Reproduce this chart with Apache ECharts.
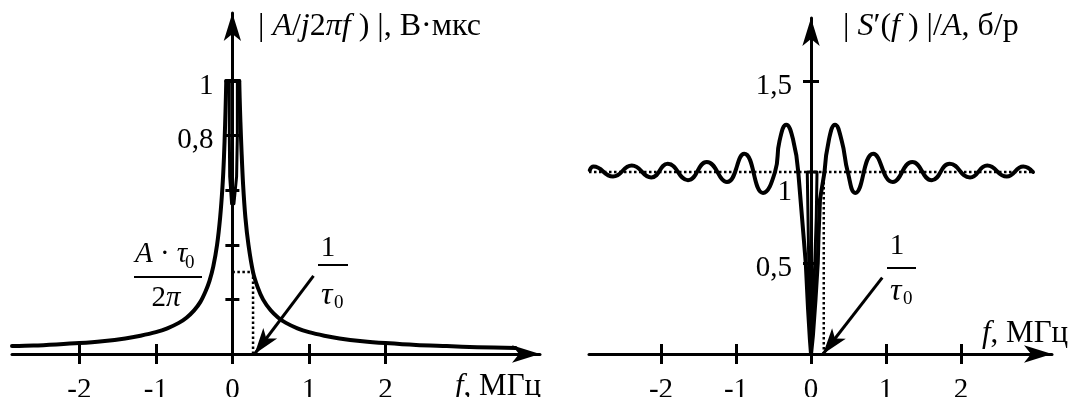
<!DOCTYPE html>
<html>
<head>
<meta charset="utf-8">
<script src="https://cdn.jsdelivr.net/npm/echarts@6/dist/echarts.min.js"></script>
<style>
  html, body { margin: 0; background: #fff; }
  #chart { width: 1087px; height: 397px; }
</style>
</head>
<body>
<div id="chart"></div>
<script>
// tick values
const fTicks = [-2, -1, 0, 1, 2];
const leftYTicks = [0.2, 0.4, 0.6, 0.8, 1];
const leftYLabels = [0.8, 1];
const rightYTicks = [0.5, 1.5];
const rightYLabels = [0.5, 1, 1.5];

// axis ranges
const leftXRange = [-2.88, 4.02];
const leftYMax = 1.249;
const rightXRange = [-2.96, 3.213];
const rightYMax = 1.846;

// left panel |A/j2πf)|
const leftNegF = [-2.88, -2.6, -2.3, -2.0, -1.7, -1.4, -1.2, -1.0, -0.85, -0.7, -0.6, -0.5, -0.42, -0.35, -0.3, -0.25, -0.2, -0.16, -0.13, -0.11, -0.095, -0.085, -0.08];
const leftNegV = [0.029, 0.031, 0.035, 0.04, 0.047, 0.057, 0.067, 0.08, 0.094, 0.114, 0.133, 0.16, 0.19, 0.23, 0.267, 0.32, 0.40, 0.50, 0.61, 0.72, 0.84, 0.94, 1.0];
const leftPosF = [0.09, 0.095, 0.105, 0.12, 0.14, 0.17, 0.21, 0.27, 0.33, 0.4, 0.5, 0.6, 0.7, 0.85, 1.0, 1.2, 1.4, 1.7, 2.0, 2.4, 2.8, 3.2, 3.7];
const leftPosV = [1.0, 0.94, 0.85, 0.74, 0.62, 0.5, 0.40, 0.30, 0.245, 0.20, 0.16, 0.133, 0.114, 0.094, 0.08, 0.067, 0.057, 0.047, 0.04, 0.033, 0.029, 0.025, 0.022];
const leftCapF = [-0.08, 0.09];
const leftCapV = [1.0, 1.0];
const leftInnerF = [-0.01, -0.035, -0.04, -0.04, 0.065, 0.065, 0.055, 0.02];
const leftInnerV = [0.55, 0.65, 0.8, 1.0, 1.0, 0.8, 0.65, 0.55];
const leftGuideF = [0, 0.27, 0.27];
const leftGuideV = [0.3, 0.3, 0];
const leftPointer = [[1.06, 0.286], [0.29, 0.0]];

// right panel |S'(f)|/A (ripple extrema and the two main lobes)
const rightNegF = [-2.95, -2.9, -2.64, -2.39, -2.13, -1.91, -1.64, -1.39, -1.12, -0.89, -0.64, -0.48, -0.42, -0.33, -0.24, -0.17];
const rightNegV = [1.01, 1.03, 0.975, 1.035, 0.97, 1.045, 0.955, 1.055, 0.945, 1.10, 0.885, 1.0, 1.17, 1.26, 1.18, 1.0];
const rightMidF = [-0.17, -0.14, -0.1, -0.07, -0.04, -0.015, 0, 0.025, 0.06, 0.09, 0.1, 0.12, 0.18];
const rightMidV = [1.0, 0.85, 0.65, 0.5, 0.25, 0.08, 0, 0.1, 0.3, 0.5, 0.65, 0.85, 1.0];
const rightPosF = [0.18, 0.24, 0.32, 0.41, 0.49, 0.59, 0.83, 1.09, 1.35, 1.61, 1.85, 2.12, 2.35, 2.61, 2.83, 2.96];
const rightPosV = [1.0, 1.18, 1.26, 1.17, 1.0, 0.885, 1.10, 0.945, 1.055, 0.955, 1.045, 0.97, 1.035, 0.975, 1.03, 1.0];
const rightInnerF = [-0.005, -0.02, -0.03, -0.04, -0.05, 0.08, 0.07, 0.05, 0.03, 0.005];
const rightInnerV = [0.05, 0.3, 0.5, 0.75, 1.0, 1.0, 0.75, 0.5, 0.3, 0.05];
const rightLevelF = [-2.96, 2.96];
const rightLevelV = [1, 1];
const rightGuideF = [0.17, 0.17];
const rightGuideV = [1, 0];
const rightPointer = [[0.95, 0.42], [0.16, 0.0]];

const serif = '"Liberation Serif", "Times New Roman", serif';
const zip = (a, b) => a.map((v, i) => [v, b[i]]);
const comma = v => String(v).replace('.', ',');

const gridBoxes = [
  { left: 12, top: 13, width: 528, height: 341 },
  { left: 589, top: 18, width: 463, height: 336 },
];
const xRanges = [leftXRange, rightXRange];
// shift the y axis from the grid's left edge onto f = 0
const zeroOffset = g => -(0 - xRanges[g][0]) / (xRanges[g][1] - xRanges[g][0]) * gridBoxes[g].width;

const chart = echarts.init(document.getElementById('chart'));

const axisBlack = { color: '#000', width: 3 };

function mainX(grid) {
  return {
    type: 'value', gridIndex: grid, min: xRanges[grid][0], max: xRanges[grid][1], position: 'bottom',
    axisLine: { onZero: false, lineStyle: axisBlack, symbol: ['none', 'arrow'], symbolSize: [13, 28] },
    axisTick: { customValues: fTicks, length: 10, lineStyle: axisBlack },
    axisLabel: { customValues: fTicks, margin: 22, color: '#000', fontFamily: serif, fontSize: 29 },
    splitLine: { show: false },
  };
}
function tickX(grid) {
  return {
    type: 'value', gridIndex: grid, min: xRanges[grid][0], max: xRanges[grid][1], position: 'bottom',
    axisLine: { show: false, onZero: false },
    axisTick: { inside: true, customValues: fTicks, length: 10, lineStyle: axisBlack },
    axisLabel: { show: false },
    splitLine: { show: false },
  };
}
function mainY(grid, max, ticks, labels, len) {
  return {
    type: 'value', gridIndex: grid, min: 0, max, position: 'left', offset: zeroOffset(grid),
    axisLine: { onZero: false, lineStyle: axisBlack, symbol: ['none', 'arrow'], symbolSize: [13, 28] },
    axisTick: { customValues: ticks, length: len, lineStyle: axisBlack },
    axisLabel: {
      customValues: labels, margin: 19, color: '#000',
      formatter: v => (grid === 1 && v === 1) ? '{low|1}' : '{d|' + comma(v) + '}',
      rich: {
        d: { fontFamily: serif, fontSize: 29, color: '#000', padding: [10, 0, 0, 0] },
        low: { fontFamily: serif, fontSize: 29, color: '#000', padding: [40, 0, 0, 0] },
      },
    },
    splitLine: { show: false },
  };
}
function tickY(grid, max, ticks, len) {
  return {
    type: 'value', gridIndex: grid, min: 0, max, position: 'left', offset: zeroOffset(grid),
    axisLine: { show: false, onZero: false },
    axisTick: { inside: true, customValues: ticks, length: len, lineStyle: axisBlack },
    axisLabel: { show: false },
    splitLine: { show: false },
  };
}

function curve(xi, yi, data, smooth, width) {
  return {
    type: 'line', xAxisIndex: xi, yAxisIndex: yi, data, smooth,
    symbol: 'none', silent: true,
    lineStyle: { color: '#000', width: width || 4, cap: 'round', join: 'round' },
  };
}
function dotted(xi, yi, data) {
  return {
    type: 'line', xAxisIndex: xi, yAxisIndex: yi, data, symbol: 'none', silent: true,
    lineStyle: { color: '#000', width: 2.5, type: [2.5, 2.5] },
  };
}
function pointer(xi, yi, pts) {
  return {
    type: 'line', xAxisIndex: xi, yAxisIndex: yi, data: [], silent: true,
    markLine: {
      silent: true, symbol: ['none', 'arrow'], symbolSize: [13, 26],
      label: { show: false },
      lineStyle: { color: '#000', width: 3, type: 'solid' },
      data: [[{ coord: pts[0] }, { coord: pts[1] }]],
    },
  };
}

function bar(x1, x2, y) {
  return { type: 'line', silent: true, shape: { x1, y1: y, x2, y2: y }, style: { stroke: '#000', lineWidth: 2 } };
}
function richText(x, y, text, size, align) {
  return {
    type: 'text', x, y, silent: true,
    style: {
      text, align: align || 'left', verticalAlign: 'middle',
      rich: {
        n: { font: size + 'px ' + serif, fill: '#000' },
        i: { font: 'italic ' + size + 'px ' + serif, fill: '#000' },
      },
    },
  };
}
function sub(x, y, text) {
  return { type: 'text', x, y, silent: true, style: { text, font: '19px ' + serif, fill: '#000', verticalAlign: 'middle' } };
}

chart.setOption({
  animation: false,
  backgroundColor: '#fff',
  grid: gridBoxes.map(b => Object.assign({ containLabel: false, outerBoundsMode: 'none' }, b)),
  xAxis: [mainX(0), tickX(0), mainX(1), tickX(1)],
  yAxis: [
    mainY(0, leftYMax, leftYTicks, leftYLabels, 7),
    tickY(0, leftYMax, leftYTicks, 7),
    mainY(1, rightYMax, rightYTicks, rightYLabels, 8),
    tickY(1, rightYMax, rightYTicks, 8),
  ],
  series: [
    curve(0, 0, zip(leftNegF, leftNegV), 0.3),
    curve(0, 0, zip(leftCapF, leftCapV), false),
    curve(0, 0, zip(leftPosF, leftPosV), 0.3),
    curve(0, 0, zip(leftInnerF, leftInnerV), false, 3),
    dotted(0, 0, zip(leftGuideF, leftGuideV)),
    pointer(0, 0, leftPointer),
    dotted(2, 2, zip(rightLevelF, rightLevelV)),
    dotted(2, 2, zip(rightGuideF, rightGuideV)),
    curve(2, 2, zip(rightNegF, rightNegV), 0.5),
    curve(2, 2, zip(rightMidF, rightMidV), false),
    curve(2, 2, zip(rightPosF, rightPosV), 0.5),
    curve(2, 2, zip(rightInnerF, rightInnerV), false, 3),
    pointer(2, 2, rightPointer),
  ],
  graphic: [
    // axis titles
    richText(258, 27, '{n|| }{i|A}{n|/}{i|j}{n|2}{i|πf}{n| ) |, В·мкс}', 32),
    richText(843, 27, '{n|| }{i|S}{n|′(}{i|f}{n| ) |/}{i|A}{n|, б/р}', 32),
    richText(455, 387, '{i|f}{n|, МГц}', 31),
    richText(982, 334, '{i|f}{n|, МГц}', 31),
    // left fraction A·τ0 / 2π
    richText(135, 254, '{i|A}{n| · }{i|τ}', 29),
    sub(185, 263, '0'),
    bar(134, 202, 277),
    richText(166, 298, '{n|2}{i|π}', 29, 'center'),
    // left 1/τ0
    richText(328, 248, '{n|1}', 29, 'center'),
    bar(318, 348, 265),
    richText(321, 296, '{i|τ}', 32),
    sub(334, 303, '0'),
    // right 1/τ0
    richText(897, 246, '{n|1}', 29, 'center'),
    bar(887, 916, 268),
    richText(890, 292, '{i|τ}', 32),
    sub(903, 299, '0'),
  ],
});
</script>
</body>
</html>
